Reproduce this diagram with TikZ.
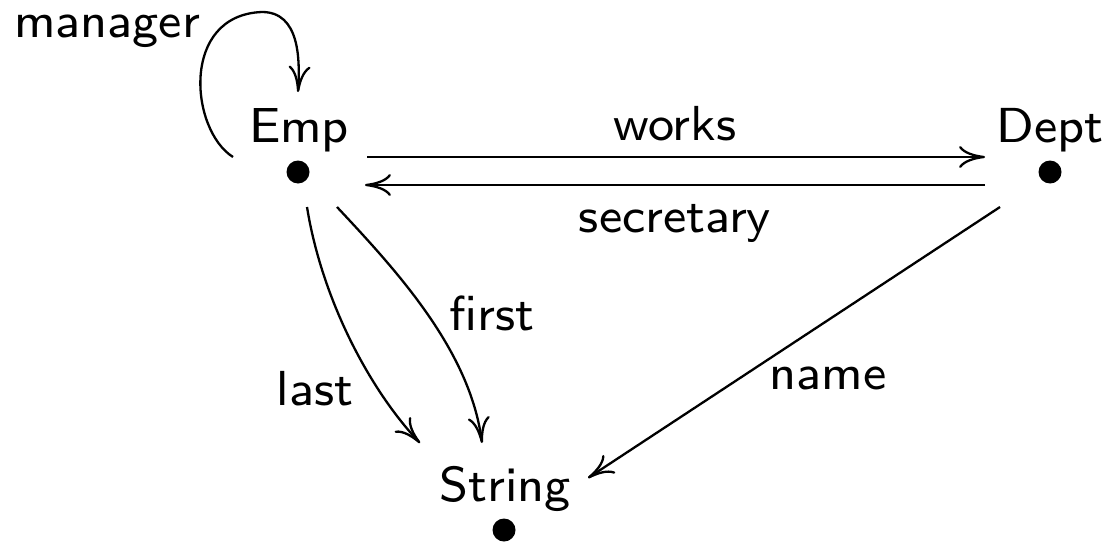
\documentclass[tikz,border=0pt]{standalone}
\usepackage{fontspec}
\newfontfamily\lmeight{lmsans8-regular.otf}
\usetikzlibrary{arrows.meta}
\begin{document}
\begin{tikzpicture}[x=0.5pt,y=-0.5pt,
  lbl/.style={font=\lmeight\fontsize{24.6}{30}\selectfont, inner sep=0pt, anchor=base},
  dotnode/.style={circle, fill=black, inner sep=0pt, minimum size=11.5pt},
  conn/.style={line width=1.15pt, -{To[length=13pt,width=11pt]}}]
\useasboundingbox (0,0) rectangle (1112,546);
% objects
\node[lbl] (emp) at (299,142) {Emp};
\node[dotnode] (empdot) at (298,172) {};
\node[lbl] (dept) at (1050,142) {Dept};
\node[dotnode] (deptdot) at (1050,172) {};
\node[lbl] (str) at (505,501) {String};
\node[dotnode] (strdot) at (504,530) {};
% labels
\node[lbl] (lmanager) at (107,37) {manager};
\node[lbl] (lworks) at (675,140) {works};
\node[lbl] (lsec) at (675,232) {secretary};
\node[lbl] (lfirst) at (492,330) {first};
\node[lbl] (llast) at (315,405) {last};
\node[lbl] (lname) at (828,389) {name};
% connectors
\draw[conn] ([shift={(69,-15)}]empdot.center) -- ([shift={(-65,-15)}]deptdot.center);
\draw[conn] ([shift={(-65,13)}]deptdot.center) -- ([shift={(67,13)}]empdot.center);
\draw[conn] ([shift={(-65,-15)}]empdot.center) .. controls ([shift={(-108,-42)}]empdot.center) and ([shift={(-118,-157)}]empdot.center) .. ([shift={(-36,-160)}]empdot.center) .. controls ([shift={(2,-160)}]empdot.center) and ([shift={(2,-112)}]empdot.center) .. ([shift={(0,-80)}]empdot.center);
\draw[conn] ([shift={(9,35)}]empdot.center) .. controls ([shift={(24,128)}]empdot.center) and ([shift={(-134,-140)}]strdot.center) .. ([shift={(-84,-87)}]strdot.center);
\draw[conn] ([shift={(39,35)}]empdot.center) .. controls ([shift={(98,98)}]empdot.center) and ([shift={(-34,-180)}]strdot.center) .. ([shift={(-22,-87)}]strdot.center);
\draw[conn] ([shift={(-50,35)}]deptdot.center) -- ([shift={(84,-52)}]strdot.center);
\end{tikzpicture}
\end{document}
